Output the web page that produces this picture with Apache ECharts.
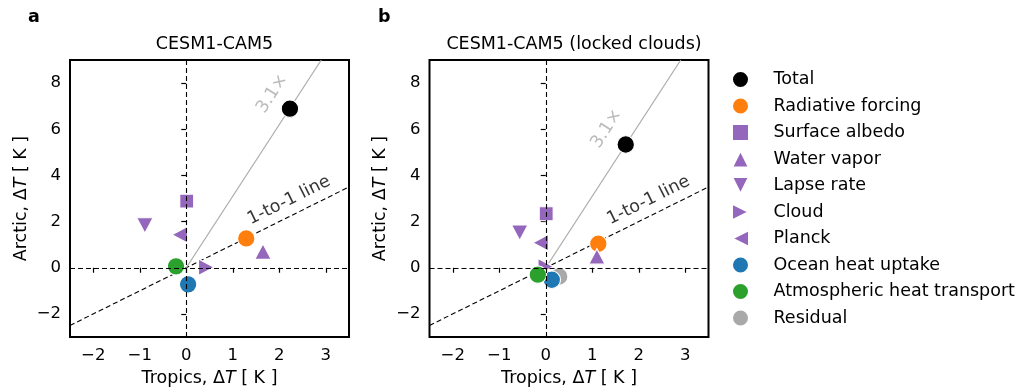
<!DOCTYPE html>
<html><head><meta charset="utf-8">
<script src="https://cdn.jsdelivr.net/npm/echarts@6/dist/echarts.min.js"></script>
<style>html,body{margin:0;padding:0;background:#fff}#c{width:1024px;height:389px}</style>
</head><body><div id="c"></div>
<script>
// ---- data ----
const names = ['Total','Radiative forcing','Surface albedo','Water vapor','Lapse rate','Cloud','Planck','Ocean heat uptake','Atmospheric heat transport','Residual'];
const tropicsA = [2.23, 1.29, 0.01, 1.65, -0.89, 0.43, -0.14, 0.04, -0.22, null];
const arcticA  = [6.89, 1.27, 2.89, 0.70, 1.83, 0.02, 1.43, -0.72, 0.06, null];
const tropicsB = [1.72, 1.13, 0.01, 1.10, -0.56, 0.00, -0.11, 0.13, -0.17, 0.29];
const arcticB  = [5.34, 1.04, 2.34, 0.49, 1.52, 0.05, 1.08, -0.52, -0.30, -0.38];
const titles = ['CESM1-CAM5', 'CESM1-CAM5 (locked clouds)'];
const panelLetters = ['a', 'b'];
const xTicks = [-2, -1, 0, 1, 2, 3];
const yTicks = [-2, 0, 2, 4, 6, 8];
const xRange = [-2.5, 3.5];
const yRange = [-3, 9];
const ampFactor = 3.1;
const ampLabelPos = [[1.85, 7.54], [1.31, 6.02]];
const oneLabelPos = [[2.21, 2.92], [2.21, 2.92]];

// ---- style ----
const FONT = 'DejaVu Sans';
const FS = 17.5;
const TFS = 16.5;
const colors = ['#000000','#ff7f0e','#9467bd','#9467bd','#9467bd','#9467bd','#9467bd','#1f77b4','#2ca02c','#a9a9a9'];
const P_SQ = 'path://M0,0 L10,0 L10,10 L0,10 Z';
const P_UP = 'path://M5,0 L10,10 L0,10 Z';
const P_DOWN = 'path://M0,0 L10,0 L5,10 Z';
const P_RIGHT = 'path://M0,0 L10,5 L0,10 Z';
const P_LEFT = 'path://M10,0 L0,5 L10,10 Z';
const symbols = ['circle','circle',P_SQ,P_UP,P_DOWN,P_RIGHT,P_LEFT,'circle','circle','circle'];
const sizes = [17.5,17.5,14,[16.5,15.5],[16.5,15.5],[15.5,16.5],[15.5,16.5],17.5,17.5,17.5];
const zOrder = [3,3,3,3,3,2,3,3,3,2];

const grids = [
  {left: 70, top: 60, width: 279, height: 277},
  {left: 429.5, top: 60, width: 279, height: 277}
];
const fmt = v => String(v).replace('-', '\u2212');
function axisName(a){ return '{n|' + a + ', \u0394}{i|T}{n| [ K ]}'; }
const nameRich = {n:{fontFamily:FONT,fontSize:FS,color:'#000'}, i:{fontFamily:FONT,fontSize:FS,fontStyle:'italic',color:'#000'}};

const xAxes = [], yAxes = [], series = [], titleArr = [];
[0,1].forEach(g => {
  xAxes.push({type:'value', gridIndex:g, min:xRange[0], max:xRange[1],
    name: axisName('Tropics'), nameLocation:'middle', nameGap:32, nameTextStyle:{rich:nameRich},
    splitLine:{show:false}, axisLine:{show:false},
    axisTick:{show:true, length:5, lineStyle:{color:'#000',width:1.2}, customValues:xTicks},
    axisLabel:{fontFamily:FONT,fontSize:TFS,color:'#000',margin:10,formatter:fmt, customValues:xTicks}});
  yAxes.push({type:'value', gridIndex:g, min:yRange[0], max:yRange[1],
    name: axisName('Arctic'), nameLocation:'middle', nameGap:40, nameTextStyle:{rich:nameRich},
    splitLine:{show:false}, axisLine:{show:false},
    axisTick:{show:true, length:5, lineStyle:{color:'#000',width:1.2}, customValues:yTicks},
    axisLabel:{fontFamily:FONT,fontSize:TFS,color:'#000',margin:9,formatter:fmt, customValues:yTicks}});
  titleArr.push({text:titles[g], left: grids[g].left + grids[g].width/2, top: 30, textAlign:'center',
    textStyle:{fontFamily:FONT,fontSize:FS,fontWeight:'normal',color:'#000'}});
  titleArr.push({text:panelLetters[g], left: g===0 ? 23 : 373, top: 3,
    textStyle:{fontFamily:FONT,fontSize:FS,fontWeight:'bold',color:'#000'}});
  // 1-to-1 line + zero lines
  series.push({type:'line', xAxisIndex:g, yAxisIndex:g, z:1, symbol:'none', silent:true,
    data:[[xRange[0], xRange[0]],[xRange[1], xRange[1]]],
    lineStyle:{color:'#000', width:1.1, type:[5,3]},
    markLine:{silent:true, symbol:'none', label:{show:false},
      lineStyle:{color:'#000', width:1.1, type:[5,3]},
      data:[{xAxis:0},{yAxis:0}]}});
  // amplification line
  series.push({type:'line', xAxisIndex:g, yAxisIndex:g, z:1, symbol:'none', silent:true,
    data:[[0,0],[yRange[1]/ampFactor, yRange[1]]],
    lineStyle:{color:'#aaaaaa', width:1.2}});
  // annotations
  series.push({type:'scatter', xAxisIndex:g, yAxisIndex:g, z:1, symbolSize:1, silent:true,
    itemStyle:{color:'rgba(0,0,0,0)'},
    data:[{value:ampLabelPos[g], label:{formatter: ampFactor + '\u00d7', rotate:57, color:'#aaaaaa'}},
          {value:oneLabelPos[g], label:{formatter:'1-to-1 line', rotate:26.5, color:'#000000'}}],
    label:{show:true, position:'inside', fontFamily:FONT, fontSize:FS, align:'center', verticalAlign:'middle', textBorderWidth:0}});
  const xs = g===0 ? tropicsA : tropicsB;
  const ys = g===0 ? arcticA : arcticB;
  names.forEach((n,i) => {
    series.push({type:'scatter', name:n, xAxisIndex:g, yAxisIndex:g, z:zOrder[i],
      symbol:symbols[i], symbolSize:sizes[i],
      itemStyle:{color:colors[i], borderColor:'#fff', borderWidth:1.2, opacity:1},
      data: xs[i]==null ? [] : [[xs[i], ys[i]]]});
  });
});

const chart = echarts.init(document.getElementById('c'), null, {renderer:'canvas'});
chart.setOption({
  animation:false,
  textStyle:{fontFamily:FONT},
  title: titleArr,
  grid: grids.map(g => Object.assign({show:true, borderColor:'#000', borderWidth:2, backgroundColor:'transparent', outerBoundsMode:'none', containLabel:false}, g)),
  xAxis: xAxes, yAxis: yAxes,
  legend:{orient:'vertical', left:726, top:65, itemWidth:56, itemHeight:17, itemGap:7.5,
    symbolKeepAspect:true, selectedMode:false,
    data:names.map((n,i)=>({name:n, icon:symbols[i]})),
    textStyle:{fontFamily:FONT, fontSize:FS, color:'#000', lineHeight:17}},
  series: series
});
</script></body></html>
